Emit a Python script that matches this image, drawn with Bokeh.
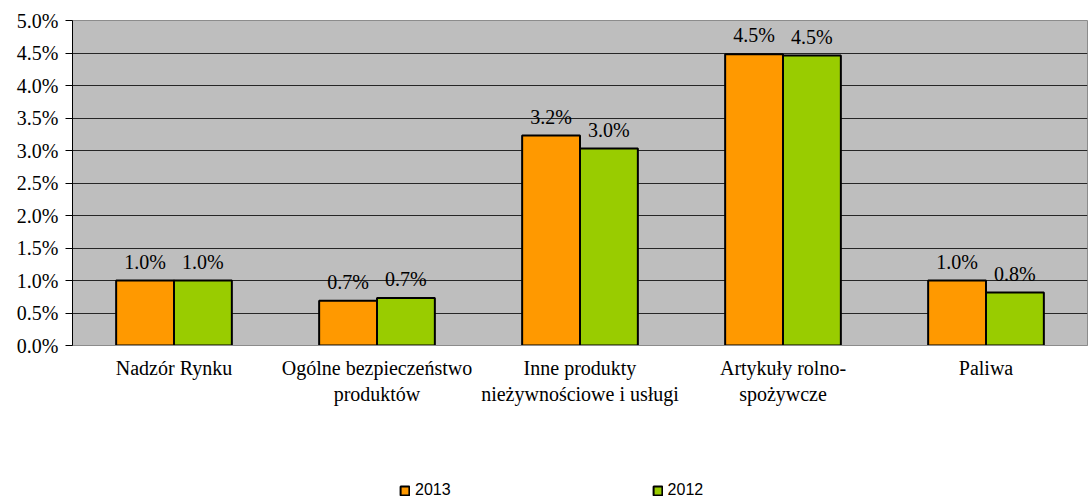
from bokeh.plotting import figure
from bokeh.layouts import column
from bokeh.models import ColumnDataSource, Legend, LegendItem, PrintfTickFormatter, FixedTicker
from bokeh.transform import dodge
from bokeh.core.properties import value
from bokeh.embed import file_html
from bokeh.resources import INLINE

categories = ["Nadzór Rynku", "Ogólne bezpieczeństwo\nproduktów", "Inne produkty\nnieżywnościowe i usługi",
              "Artykuły rolno-\nspożywcze", "Paliwa"]
v2013 = [1.0, 0.69, 3.23, 4.48, 1.0]
v2012 = [1.0, 0.73, 3.03, 4.46, 0.815]
series_names = ["2013", "2012"]
y_ticks = [0, 0.5, 1.0, 1.5, 2.0, 2.5, 3.0, 3.5, 4.0, 4.5, 5.0]

SERIF = "Liberation Serif"
FS = "20px"
C2013 = "#FF9900"
C2012 = "#99CC00"

src = ColumnDataSource(dict(
    cat=categories, v2013=v2013, v2012=v2012,
    l2013=[f"{v:.1f}%" for v in v2013], l2012=[f"{v:.1f}%" for v in v2012],
))

p = figure(x_range=categories, y_range=(0, 5.0), width=1089, height=465,
           output_backend="svg", toolbar_location=None,
           min_border_left=72, min_border_right=2, min_border_top=20, min_border_bottom=120)
p.background_fill_color = "#BEBEBE"
p.border_fill_color = "white"
p.outline_line_color = "#8C8C8C"
p.outline_line_width = 1

w = 0.285
p.vbar(x=dodge("cat", -w / 2, range=p.x_range), top="v2013", width=w, source=src,
       fill_color=C2013, line_color="black", line_width=2)
p.vbar(x=dodge("cat", w / 2, range=p.x_range), top="v2012", width=w, source=src,
       fill_color=C2012, line_color="black", line_width=2)

p.text(x=dodge("cat", -w / 2, range=p.x_range), y="v2013", text="l2013", source=src,
       text_align="center", text_baseline="bottom", y_offset=-8,
       text_font=value(SERIF), text_font_size=FS, text_color="black")
p.text(x=dodge("cat", w / 2, range=p.x_range), y="v2012", text="l2012", source=src,
       text_align="center", text_baseline="bottom", y_offset=-8,
       text_font=value(SERIF), text_font_size=FS, text_color="black")

p.xgrid.grid_line_color = None
p.ygrid.grid_line_color = "#262626"
p.ygrid.grid_line_width = 1
p.ygrid.ticker = FixedTicker(ticks=y_ticks)

p.yaxis.ticker = FixedTicker(ticks=y_ticks)
p.yaxis.formatter = PrintfTickFormatter(format="%.1f%%")
p.yaxis.major_label_text_font = SERIF
p.yaxis.major_label_text_font_size = FS
p.yaxis.major_label_text_color = "black"
p.yaxis.axis_line_color = "black"
p.yaxis.major_tick_line_color = "black"
p.yaxis.major_tick_out = 7
p.yaxis.major_tick_in = 0
p.yaxis.minor_tick_line_color = None
p.yaxis.major_label_standoff = 7

p.xaxis.axis_line_color = "#8C8C8C"
p.xaxis.major_tick_line_color = None
p.xaxis.minor_tick_line_color = None
p.xaxis.major_label_text_font = SERIF
p.xaxis.major_label_text_font_size = FS
p.xaxis.major_label_text_color = "black"
p.xaxis.major_label_standoff = 5

# legend strip below the chart
pl = figure(x_range=p.x_range, y_range=p.y_range, width=1089, height=35,
            output_backend="svg", toolbar_location=None,
            min_border_left=0, min_border_right=0, min_border_top=0, min_border_bottom=0)
pl.axis.visible = False
pl.grid.visible = False
pl.outline_line_color = None
pl.background_fill_color = "white"
lr1 = pl.vbar(x=dodge("cat", -w / 2, range=pl.x_range), top="v2013", width=w, source=src,
              fill_color=C2013, line_color="black", line_width=2, visible=False)
lr2 = pl.vbar(x=dodge("cat", w / 2, range=pl.x_range), top="v2012", width=w, source=src,
              fill_color=C2012, line_color="black", line_width=2, visible=False)
legend = Legend(items=[LegendItem(label=series_names[0], renderers=[lr1]),
                       LegendItem(label=series_names[1], renderers=[lr2])],
                orientation="horizontal", location=(327, 1),
                glyph_width=11, glyph_height=11, label_standoff=5, spacing=201,
                padding=0, margin=0, border_line_color=None, background_fill_alpha=0,
                label_text_font="Liberation Sans", label_text_font_size="16px",
                label_text_color="black")
pl.add_layout(legend, "center")

layout = column(p, pl, spacing=0)
open("out.html", "w").write(file_html(layout, INLINE))
